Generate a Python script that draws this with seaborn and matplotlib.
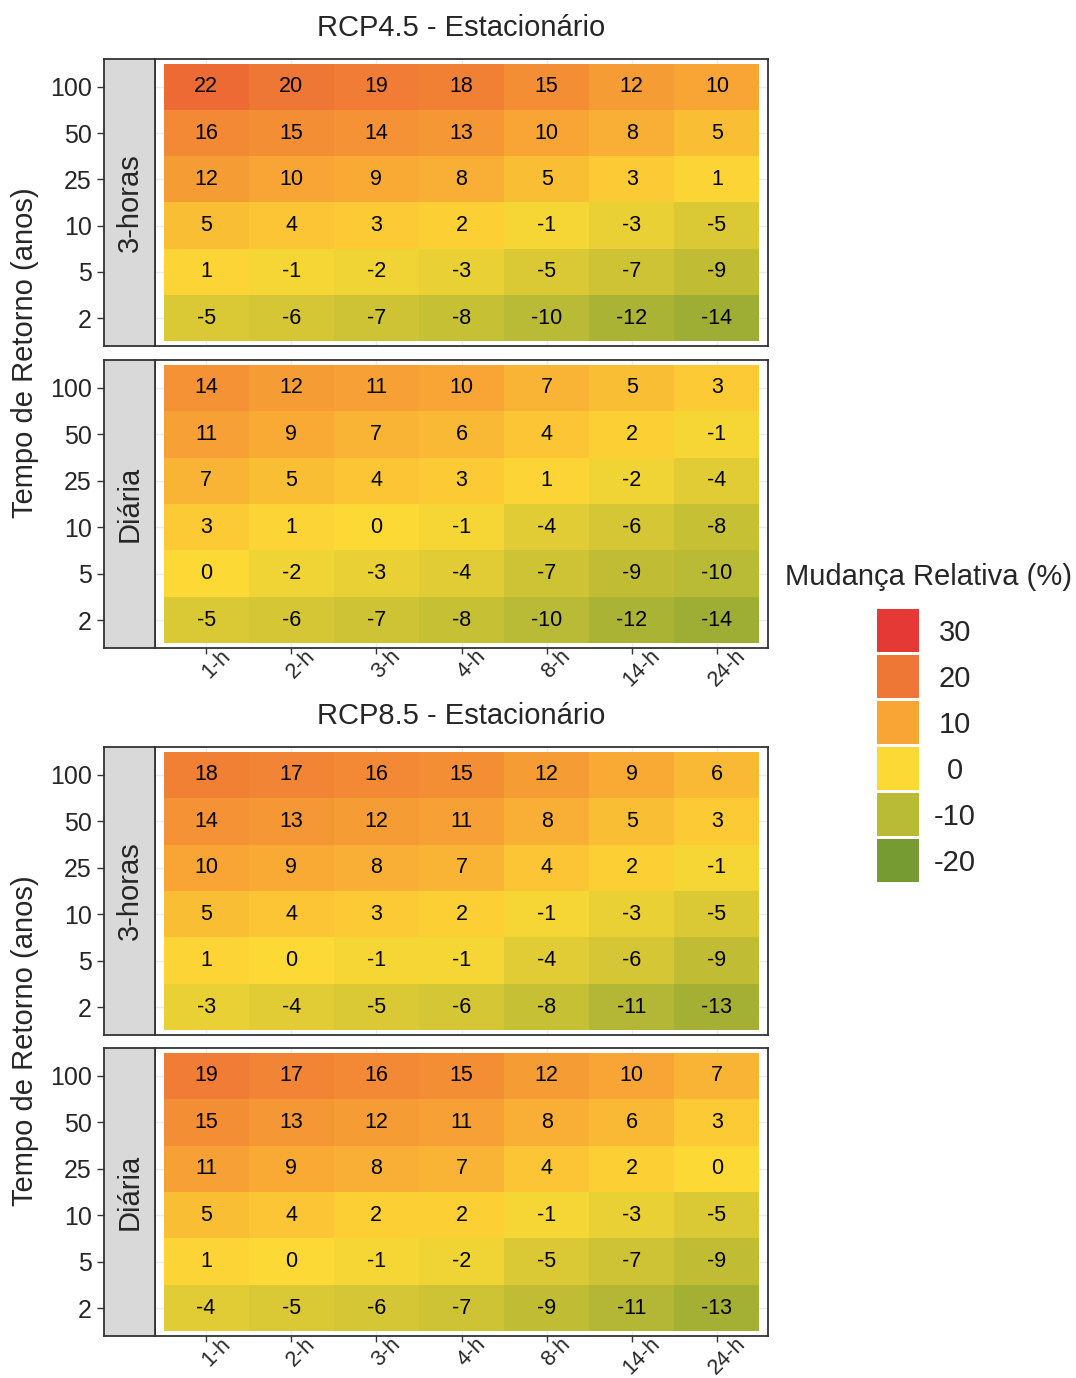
import numpy as np
import pandas as pd
import matplotlib
matplotlib.use('Agg')
import matplotlib.pyplot as plt
import seaborn as sns
from matplotlib.colors import LinearSegmentedColormap
from matplotlib.transforms import ScaledTranslation

sns.set_theme(style='white')
plt.rcParams['font.family'] = ['Liberation Sans', 'DejaVu Sans']

# dados
duracoes = ['1-h', '2-h', '3-h', '4-h', '8-h', '14-h', '24-h']
periodos = [100, 50, 25, 10, 5, 2]

rcp45_3h = [[22, 20, 19, 18, 15, 12, 10],
            [16, 15, 14, 13, 10, 8, 5],
            [12, 10, 9, 8, 5, 3, 1],
            [5, 4, 3, 2, -1, -3, -5],
            [1, -1, -2, -3, -5, -7, -9],
            [-5, -6, -7, -8, -10, -12, -14]]
rcp45_dia = [[14, 12, 11, 10, 7, 5, 3],
             [11, 9, 7, 6, 4, 2, -1],
             [7, 5, 4, 3, 1, -2, -4],
             [3, 1, 0, -1, -4, -6, -8],
             [0, -2, -3, -4, -7, -9, -10],
             [-5, -6, -7, -8, -10, -12, -14]]
rcp85_3h = [[18, 17, 16, 15, 12, 9, 6],
            [14, 13, 12, 11, 8, 5, 3],
            [10, 9, 8, 7, 4, 2, -1],
            [5, 4, 3, 2, -1, -3, -5],
            [1, 0, -1, -1, -4, -6, -9],
            [-3, -4, -5, -6, -8, -11, -13]]
rcp85_dia = [[19, 17, 16, 15, 12, 10, 7],
             [15, 13, 12, 11, 8, 6, 3],
             [11, 9, 8, 7, 4, 2, 0],
             [5, 4, 2, 2, -1, -3, -5],
             [1, 0, -1, -2, -5, -7, -9],
             [-4, -5, -6, -7, -9, -11, -13]]

cenarios = ['RCP4.5 - Estacionário', 'RCP8.5 - Estacionário']
facetas = ['3-horas', 'Diária']

legenda_vals = [30, 20, 10, 0, -10, -20]
legenda_cores = ['#E53935', '#EF7735', '#F8A535', '#FDD935', '#B9BA35', '#779B33']

vmin, vmax = -20, 30
cmap = LinearSegmentedColormap.from_list(
    'mudanca', [((v - vmin) / (vmax - vmin), c) for v, c in
                sorted(zip(legenda_vals, legenda_cores))])

W, H = 1076, 1378
fig = plt.figure(figsize=(W / 100, H / 100), dpi=100)


def px_axes(x0, y0, x1, y1):
    return fig.add_axes([x0 / W, 1 - y1 / H, (x1 - x0) / W, (y1 - y0) / H])


borda = '#333333'
paineis = [(rcp45_3h, 0, 0, 59, 346), (rcp45_dia, 0, 1, 360, 648),
           (rcp85_3h, 1, 0, 747, 1035), (rcp85_dia, 1, 1, 1048, 1336)]

for dados, c, f, y0, y1 in paineis:
    df = pd.DataFrame(dados, index=periodos, columns=duracoes)
    ax = px_axes(155, y0, 768, y1)
    sns.heatmap(df, ax=ax, cmap=cmap, vmin=vmin, vmax=vmax, annot=True, fmt='d',
                cbar=False, annot_kws={'color': 'black', 'fontsize': 15.5})
    ax.set_xlim(-0.1, 7.1)
    ax.set_ylim(6.1, -0.1)
    ax.set_axisbelow(True)
    ax.grid(True, color='#EBEBEB', linewidth=1)
    ax.set_xlabel('')
    ax.set_ylabel('')
    ax.set_yticks(np.arange(6) + 0.5)
    ax.set_yticklabels([])
    ax.tick_params(axis='y', left=False, length=0)
    for s in ax.spines.values():
        s.set_visible(True)
        s.set_color(borda)
        s.set_linewidth(1.3)
    ax.set_xticks(np.arange(7) + 0.5)
    if f == 1:
        ax.set_xticklabels(duracoes, rotation=45, ha='center', va='top', fontsize=15.5)
        ax.tick_params(axis='x', bottom=True, length=4, width=1, color=borda, pad=0)
        for lab in ax.get_xticklabels():
            lab.set_transform(lab.get_transform() + ScaledTranslation(0.1, 0.08, fig.dpi_scale_trans))
    else:
        ax.set_xticklabels([])
        ax.tick_params(axis='x', bottom=False, length=0)

    # faixa lateral (strip)
    sx = px_axes(104, y0, 155, y1)
    sx.set_facecolor('#D9D9D9')
    sx.set_xlim(0, 1)
    sx.set_ylim(6.1, -0.1)
    sx.set_xticks([])
    sx.set_yticks(np.arange(6) + 0.5)
    sx.set_yticklabels(periodos, fontsize=18)
    sx.tick_params(axis='y', left=True, length=5, width=1, color=borda, pad=4)
    for s in sx.spines.values():
        s.set_visible(True)
        s.set_color(borda)
        s.set_linewidth(1.3)
    sx.text(0.5, 3.0, facetas[f], rotation=90, ha='center', va='center', fontsize=21)

    if f == 0:
        fig.text(461.5 / W, 1 - (y0 - 31) / H, cenarios[c], ha='center', va='center', fontsize=21)
        fig.text(25 / W, 1 - (y0 + 294) / H, 'Tempo de Retorno (anos)', rotation=90,
                 ha='center', va='center', fontsize=21)

# legenda
lax = px_axes(875, 607, 920, 883)
sns.heatmap(np.array(legenda_vals).reshape(-1, 1), ax=lax, cmap=cmap, vmin=vmin, vmax=vmax,
            cbar=False, linewidths=1, linecolor='white', xticklabels=False,
            yticklabels=legenda_vals)
lax.yaxis.tick_right()
lax.tick_params(axis='y', right=False, left=False, length=0, pad=25, labelsize=21)
for lab in lax.get_yticklabels():
    lab.set_rotation(0)
    lab.set_ha('center')
fig.text(785 / W, 1 - 577 / H, 'Mudança Relativa (%)', ha='left', va='center', fontsize=21)

fig.savefig('out.png', dpi=100)
